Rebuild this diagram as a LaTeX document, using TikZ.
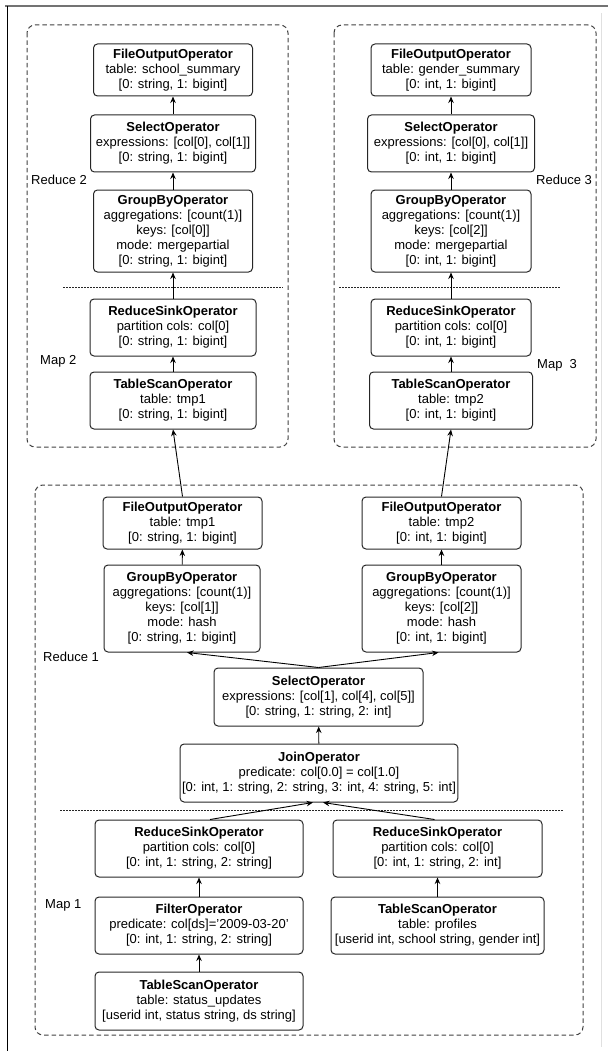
\documentclass[tikz,border=0pt]{standalone}
\usepackage{fontspec}
\setmainfont{Liberation Sans}
\usepackage{tikz}
\usetikzlibrary{arrows.meta}

\tikzset{
  op/.style={draw=black!85, rounded corners=4pt, align=center, inner sep=2pt, line width=1pt},
  stage/.style={draw=black!75, dash pattern=on 4.5pt off 3pt, rounded corners=8pt, line width=1pt},
  cut/.style={draw=black!85, dash pattern=on 1.5pt off 1.5pt, line width=0.9pt},
  lbl/.style={anchor=west, inner sep=0pt},
  flow/.style={->, line width=0.9pt},
}

\begin{document}
\begin{tikzpicture}[x=1pt, y=-1pt, >={Stealth[length=6.5pt,width=5.5pt]}, font=\fontsize{13}{15}\selectfont]
  \useasboundingbox (0,0) rectangle (608,1051);
  \draw[black!55, line width=2pt] (5,6) -- (608,6);
  \draw[black, line width=1pt] (7,6) -- (7,1051);
  \draw[black!12, line width=1pt] (601,13) -- (601,1047);

  \draw[stage] (27,25) rectangle (288,447);
  \draw[stage] (334,25) rectangle (596,447);
  \draw[stage] (35,485) rectangle (583,1035);
  \draw[cut] (63,287) -- (283,287);
  \draw[cut] (339,287) -- (560,287);
  \draw[cut] (60,810) -- (564,810);

  \node[lbl] (r2) at (31,180) {Reduce 2};
  \node[lbl] (m2) at (40,361) {Map 2};
  \node[lbl] (r3) at (536,180) {Reduce 3};
  \node[lbl] (m3) at (537,365) {Map\ \ 3};
  \node[lbl] (r1) at (43,657) {Reduce 1};
  \node[lbl] (m1) at (45,905) {Map 1};

  \node[op, minimum width=159, minimum height=52] (fo2) at (173,70)
    {\textbf{FileOutputOperator}\\table: school\_summary\\{[0: string, 1: bigint]}};
  \node[op, minimum width=165, minimum height=57] (sel2) at (173,143.5)
    {\textbf{SelectOperator}\\expressions: [col[0], col[1]]\\{[0: string, 1: bigint]}};
  \node[op, minimum width=159, minimum height=82] (gb2) at (173,231)
    {\textbf{GroupByOperator}\\aggregations: [count(1)]\\keys: [col[0]]\\mode: mergepartial\\{[0: string, 1: bigint]}};
  \node[op, minimum width=166, minimum height=57] (rs2) at (173,327.5)
    {\textbf{ReduceSinkOperator}\\partition cols: col[0]\\{[0: string, 1: bigint]}};
  \node[op, minimum width=166, minimum height=57] (ts2) at (173,400.5)
    {\textbf{TableScanOperator}\\table: tmp1\\{[0: string, 1: bigint]}};

  \node[op, minimum width=160, minimum height=52] (fo3) at (451,70)
    {\textbf{FileOutputOperator}\\table: gender\_summary\\{[0: int, 1: bigint]}};
  \node[op, minimum width=167, minimum height=57] (sel3) at (451,143.5)
    {\textbf{SelectOperator}\\expressions: [col[0], col[1]]\\{[0: int, 1: bigint]}};
  \node[op, minimum width=160, minimum height=82] (gb3) at (451,231)
    {\textbf{GroupByOperator}\\aggregations: [count(1)]\\keys: [col[2]]\\mode: mergepartial\\{[0: int, 1: bigint]}};
  \node[op, minimum width=160, minimum height=57] (rs3) at (451,327.5)
    {\textbf{ReduceSinkOperator}\\partition cols: col[0]\\{[0: int, 1: bigint]}};
  \node[op, minimum width=163, minimum height=57] (ts3) at (451,400.5)
    {\textbf{TableScanOperator}\\table: tmp2\\{[0: int, 1: bigint]}};

  \node[op, minimum width=159, minimum height=52] (fo1) at (182.5,523)
    {\textbf{FileOutputOperator}\\table: tmp1\\{[0: string, 1: bigint]}};
  \node[op, minimum width=156, minimum height=87] (gb1) at (182,608.5)
    {\textbf{GroupByOperator}\\aggregations: [count(1)]\\keys: [col[1]]\\mode: hash\\{[0: string, 1: bigint]}};
  \node[op, minimum width=159, minimum height=52] (fo4) at (441.5,523)
    {\textbf{FileOutputOperator}\\table: tmp2\\{[0: int, 1: bigint]}};
  \node[op, minimum width=159, minimum height=87] (gb4) at (441.5,608.5)
    {\textbf{GroupByOperator}\\aggregations: [count(1)]\\keys: [col[2]]\\mode: hash\\{[0: int, 1: bigint]}};
  \node[op, minimum width=209, minimum height=58] (sel1) at (318.5,697)
    {\textbf{SelectOperator}\\expressions: [col[1], col[4], col[5]]\\{[0: string, 1: string, 2: int]}};
  \node[op, minimum width=274, minimum height=58] (join) at (319,773)
    {\textbf{JoinOperator}\\predicate: col[0.0] = col[1.0]\\{[0: int, 1: string, 2: string, 3: int, 4: string, 5: int]}};
  \node[op, minimum width=208, minimum height=57] (rsa) at (199,848.5)
    {\textbf{ReduceSinkOperator}\\partition cols: col[0]\\{[0: int, 1: string, 2: string]}};
  \node[op, minimum width=208, minimum height=57] (filt) at (199,925.5)
    {\textbf{FilterOperator}\\predicate: col[ds]='2009-03-20'\\{[0: int, 1: string, 2: string]}};
  \node[op, minimum width=208, minimum height=58] (tsa) at (199,1001)
    {\textbf{TableScanOperator}\\table: status\_updates\\{[userid int, status string, ds string]}};
  \node[op, minimum width=209, minimum height=57] (rsb) at (437.5,848.5)
    {\textbf{ReduceSinkOperator}\\partition cols: col[0]\\{[0: int, 1: string, 2: int]}};
  \node[op, minimum width=213, minimum height=57] (tsb) at (437.5,925.5)
    {\textbf{TableScanOperator}\\table: profiles\\{[userid int, school string, gender int]}};

  \draw[flow] (sel2) -- (fo2);
  \draw[flow] (gb2) -- (sel2);
  \draw[flow] (rs2) -- (gb2);
  \draw[flow] (ts2) -- (rs2);
  \draw[flow] (sel3) -- (fo3);
  \draw[flow] (gb3) -- (sel3);
  \draw[flow] (rs3) -- (gb3);
  \draw[flow] (ts3) -- (rs3);
  \draw[flow] (fo1.north) -- (ts2.south);
  \draw[flow] (fo4.north) -- (ts3.south);
  \draw[flow] (gb1) -- (fo1);
  \draw[flow] (gb4) -- (fo4);
  \draw[flow] (sel1.north) -- ([xshift=5]gb1.south);
  \draw[flow] (sel1.north) -- ([xshift=-3]gb4.south);
  \draw[flow] (join) -- (sel1);
  \draw[flow] ([xshift=11]rsa.north) -- ([xshift=-6]join.south);
  \draw[flow] ([xshift=-3]rsb.north) -- ([xshift=4]join.south);
  \draw[flow] (filt) -- (rsa);
  \draw[flow] (tsa) -- (filt);
  \draw[flow] (tsb) -- (rsb);
\end{tikzpicture}
\end{document}
